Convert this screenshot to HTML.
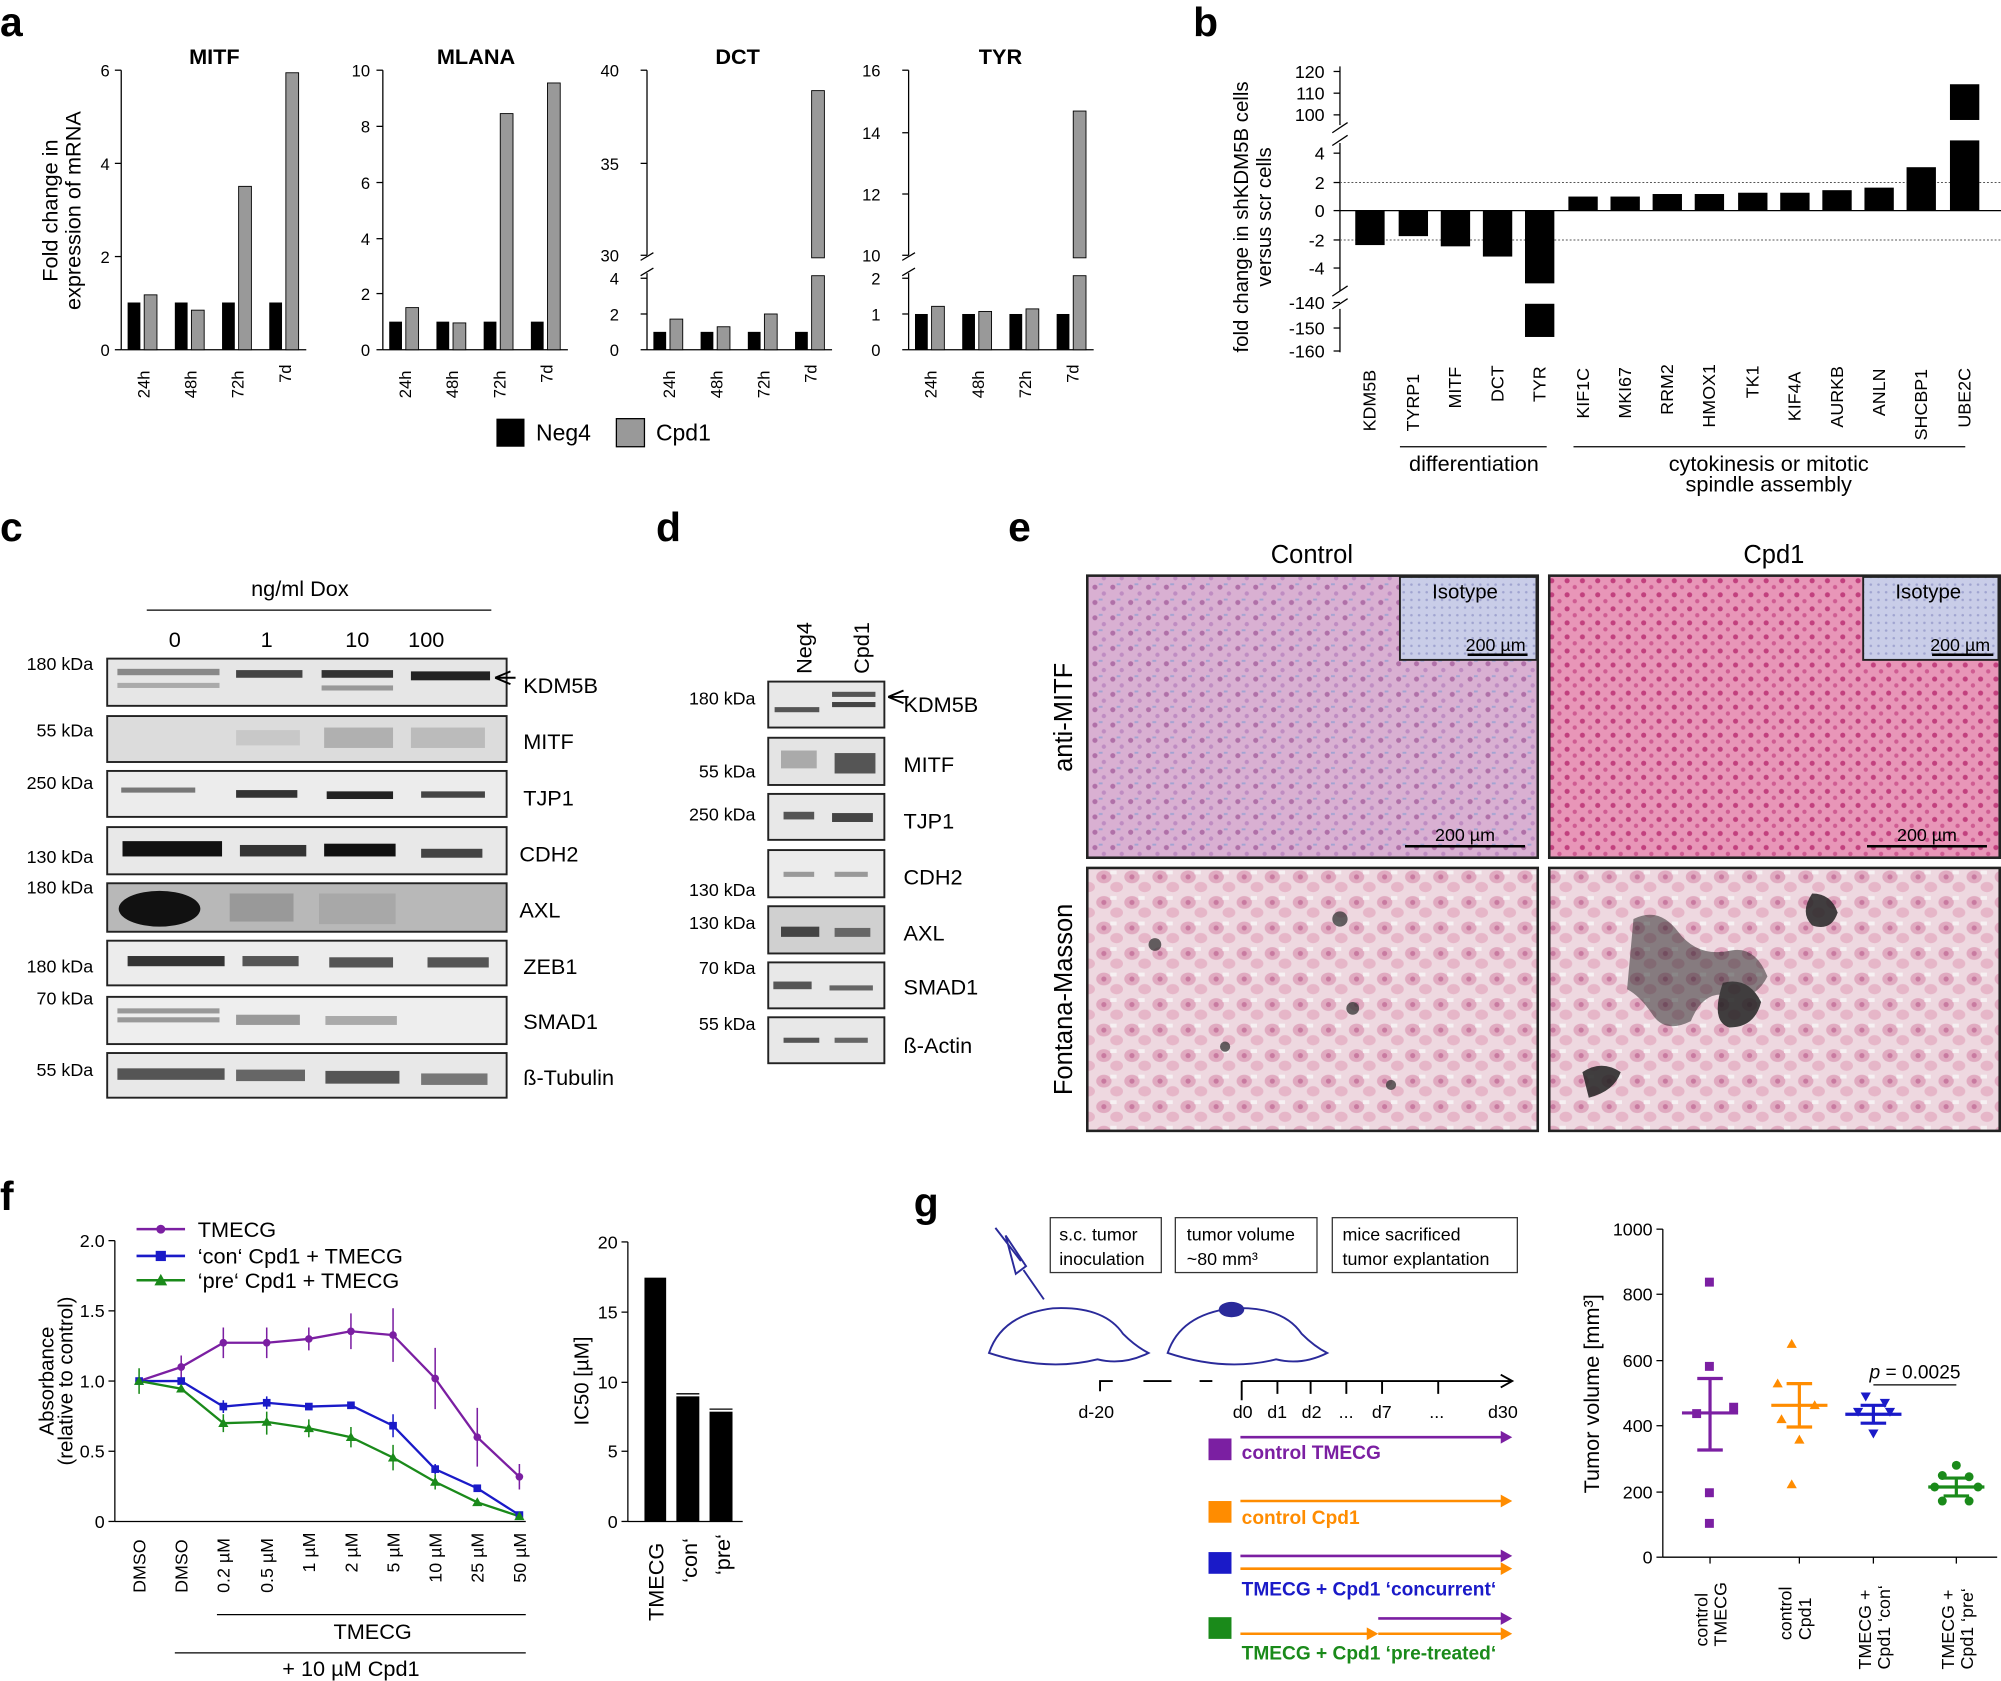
<!DOCTYPE html>
<html><head><meta charset="utf-8"><style>
html,body{margin:0;padding:0;background:#fff}
svg{display:block}
text{font-family:"Liberation Sans",Arial,sans-serif;fill:#000}
</style></head><body>
<svg width="2001" height="1681" viewBox="0 0 1568 1317" preserveAspectRatio="none" xmlns="http://www.w3.org/2000/svg">
<defs>
<pattern id="cellA" width="14" height="12" patternUnits="userSpaceOnUse">
<rect width="14" height="12" fill="#d9b0d2"/><circle cx="4" cy="4" r="2" fill="#b070a8"/><circle cx="11" cy="9" r="1.7" fill="#bf8cc2"/><rect x="7" y="1" width="3" height="1.5" fill="#a2a4d2"/>
</pattern>
<pattern id="cellB" width="12" height="11" patternUnits="userSpaceOnUse">
<rect width="12" height="11" fill="#e896b8"/><circle cx="4" cy="4" r="2" fill="#c2407e"/><circle cx="10" cy="9" r="1.7" fill="#cf5c92"/>
</pattern>
<pattern id="iso" width="6" height="6" patternUnits="userSpaceOnUse">
<rect width="6" height="6" fill="#c9cde8"/><circle cx="2" cy="2" r="1" fill="#a0a4d0"/>
</pattern>
<pattern id="fm" width="22" height="20" patternUnits="userSpaceOnUse">
<rect width="22" height="20" fill="#eed8e0"/><ellipse cx="7" cy="7" rx="6" ry="5" fill="#e0aac0"/><circle cx="7" cy="7" r="2" fill="#c87aa0"/><ellipse cx="17" cy="15" rx="5" ry="4" fill="#e6b6c8"/><rect x="12" y="2" width="5" height="3" fill="#f6f0f2"/>
</pattern>
</defs>

<!-- ===== Panel a ===== -->
<text x="0" y="28" font-size="32" font-weight="bold">a</text>
<text x="45" y="165" transform="rotate(-90 45 165)" text-anchor="middle" font-size="17">Fold change in</text>
<text x="63" y="165" transform="rotate(-90 63 165)" text-anchor="middle" font-size="17">expression of mRNA</text>
<!-- MITF -->
<g font-size="13">
<text x="168" y="50" font-size="17" font-weight="bold" text-anchor="middle">MITF</text>
<line x1="95" y1="55" x2="95" y2="274" stroke="#000"/>
<line x1="95" y1="274" x2="240" y2="274" stroke="#000"/>
<g stroke="#000"><line x1="90" y1="55" x2="95" y2="55"/><line x1="90" y1="128" x2="95" y2="128"/><line x1="90" y1="201" x2="95" y2="201"/><line x1="90" y1="274" x2="95" y2="274"/></g>
<text x="86" y="60" text-anchor="end">6</text><text x="86" y="133" text-anchor="end">4</text><text x="86" y="206" text-anchor="end">2</text><text x="86" y="279" text-anchor="end">0</text>
<rect x="100" y="237" width="10" height="37"/><rect x="113" y="231" width="10" height="43" fill="#999" stroke="#000" stroke-width="0.7"/>
<rect x="137" y="237" width="10" height="37"/><rect x="150" y="243" width="10" height="31" fill="#999" stroke="#000" stroke-width="0.7"/>
<rect x="174" y="237" width="10" height="37"/><rect x="187" y="146" width="10" height="128" fill="#999" stroke="#000" stroke-width="0.7"/>
<rect x="211" y="237" width="10" height="37"/><rect x="224" y="57" width="10" height="217" fill="#999" stroke="#000" stroke-width="0.7"/>
<text transform="translate(117,312) rotate(-90)">24h</text><text transform="translate(154,312) rotate(-90)">48h</text><text transform="translate(191,312) rotate(-90)">72h</text><text transform="translate(228,300) rotate(-90)">7d</text>
</g>
<!-- MLANA -->
<g font-size="13">
<text x="373" y="50" font-size="17" font-weight="bold" text-anchor="middle">MLANA</text>
<line x1="300" y1="55" x2="300" y2="274" stroke="#000"/>
<line x1="300" y1="274" x2="445" y2="274" stroke="#000"/>
<g stroke="#000"><line x1="295" y1="55" x2="300" y2="55"/><line x1="295" y1="99" x2="300" y2="99"/><line x1="295" y1="143" x2="300" y2="143"/><line x1="295" y1="187" x2="300" y2="187"/><line x1="295" y1="230" x2="300" y2="230"/><line x1="295" y1="274" x2="300" y2="274"/></g>
<text x="290" y="60" text-anchor="end">10</text><text x="290" y="104" text-anchor="end">8</text><text x="290" y="148" text-anchor="end">6</text><text x="290" y="192" text-anchor="end">4</text><text x="290" y="235" text-anchor="end">2</text><text x="290" y="279" text-anchor="end">0</text>
<rect x="305" y="252" width="10" height="22"/><rect x="318" y="241" width="10" height="33" fill="#999" stroke="#000" stroke-width="0.7"/>
<rect x="342" y="252" width="10" height="22"/><rect x="355" y="253" width="10" height="21" fill="#999" stroke="#000" stroke-width="0.7"/>
<rect x="379" y="252" width="10" height="22"/><rect x="392" y="89" width="10" height="185" fill="#999" stroke="#000" stroke-width="0.7"/>
<rect x="416" y="252" width="10" height="22"/><rect x="429" y="65" width="10" height="209" fill="#999" stroke="#000" stroke-width="0.7"/>
<text transform="translate(322,312) rotate(-90)">24h</text><text transform="translate(359,312) rotate(-90)">48h</text><text transform="translate(396,312) rotate(-90)">72h</text><text transform="translate(433,300) rotate(-90)">7d</text>
</g>
<!-- DCT -->
<g font-size="13">
<text x="578" y="50" font-size="17" font-weight="bold" text-anchor="middle">DCT</text>
<line x1="507" y1="55" x2="507" y2="200" stroke="#000"/><line x1="507" y1="214" x2="507" y2="274" stroke="#000"/>
<line x1="502" y1="204" x2="512" y2="198" stroke="#000"/><line x1="502" y1="216" x2="512" y2="210" stroke="#000"/>
<line x1="507" y1="274" x2="652" y2="274" stroke="#000"/>
<g stroke="#000"><line x1="502" y1="55" x2="507" y2="55"/><line x1="502" y1="128" x2="507" y2="128"/><line x1="502" y1="200" x2="507" y2="200"/><line x1="502" y1="218" x2="507" y2="218"/><line x1="502" y1="246" x2="507" y2="246"/><line x1="502" y1="274" x2="507" y2="274"/></g>
<text x="485" y="60" text-anchor="end">40</text><text x="485" y="133" text-anchor="end">35</text><text x="485" y="205" text-anchor="end">30</text><text x="485" y="223" text-anchor="end">4</text><text x="485" y="251" text-anchor="end">2</text><text x="485" y="279" text-anchor="end">0</text>
<rect x="512" y="260" width="10" height="14"/><rect x="525" y="250" width="10" height="24" fill="#999" stroke="#000" stroke-width="0.7"/>
<rect x="549" y="260" width="10" height="14"/><rect x="562" y="256" width="10" height="18" fill="#999" stroke="#000" stroke-width="0.7"/>
<rect x="586" y="260" width="10" height="14"/><rect x="599" y="246" width="10" height="28" fill="#999" stroke="#000" stroke-width="0.7"/>
<rect x="623" y="260" width="10" height="14"/><rect x="636" y="71" width="10" height="131" fill="#999" stroke="#000" stroke-width="0.7"/><rect x="636" y="216" width="10" height="58" fill="#999" stroke="#000" stroke-width="0.7"/>
<text transform="translate(529,312) rotate(-90)">24h</text><text transform="translate(566,312) rotate(-90)">48h</text><text transform="translate(603,312) rotate(-90)">72h</text><text transform="translate(640,300) rotate(-90)">7d</text>
</g>
<!-- TYR -->
<g font-size="13">
<text x="784" y="50" font-size="17" font-weight="bold" text-anchor="middle">TYR</text>
<line x1="712" y1="55" x2="712" y2="200" stroke="#000"/><line x1="712" y1="214" x2="712" y2="274" stroke="#000"/>
<line x1="707" y1="204" x2="717" y2="198" stroke="#000"/><line x1="707" y1="216" x2="717" y2="210" stroke="#000"/>
<line x1="712" y1="274" x2="857" y2="274" stroke="#000"/>
<g stroke="#000"><line x1="707" y1="55" x2="712" y2="55"/><line x1="707" y1="104" x2="712" y2="104"/><line x1="707" y1="152" x2="712" y2="152"/><line x1="707" y1="200" x2="712" y2="200"/><line x1="707" y1="218" x2="712" y2="218"/><line x1="707" y1="246" x2="712" y2="246"/><line x1="707" y1="274" x2="712" y2="274"/></g>
<text x="690" y="60" text-anchor="end">16</text><text x="690" y="109" text-anchor="end">14</text><text x="690" y="157" text-anchor="end">12</text><text x="690" y="205" text-anchor="end">10</text><text x="690" y="223" text-anchor="end">2</text><text x="690" y="251" text-anchor="end">1</text><text x="690" y="279" text-anchor="end">0</text>
<rect x="717" y="246" width="10" height="28"/><rect x="730" y="240" width="10" height="34" fill="#999" stroke="#000" stroke-width="0.7"/>
<rect x="754" y="246" width="10" height="28"/><rect x="767" y="244" width="10" height="30" fill="#999" stroke="#000" stroke-width="0.7"/>
<rect x="791" y="246" width="10" height="28"/><rect x="804" y="242" width="10" height="32" fill="#999" stroke="#000" stroke-width="0.7"/>
<rect x="828" y="246" width="10" height="28"/><rect x="841" y="87" width="10" height="115" fill="#999" stroke="#000" stroke-width="0.7"/><rect x="841" y="216" width="10" height="58" fill="#999" stroke="#000" stroke-width="0.7"/>
<text transform="translate(734,312) rotate(-90)">24h</text><text transform="translate(771,312) rotate(-90)">48h</text><text transform="translate(808,312) rotate(-90)">72h</text><text transform="translate(845,300) rotate(-90)">7d</text>
</g>
<rect x="389" y="328" width="22" height="22"/><text x="420" y="345" font-size="18">Neg4</text>
<rect x="483" y="328" width="22" height="22" fill="#999" stroke="#000"/><text x="514" y="345" font-size="18">Cpd1</text>

<!-- ===== Panel b ===== -->
<text x="935" y="28" font-size="32" font-weight="bold">b</text>
<text transform="translate(978,170) rotate(-90)" text-anchor="middle" font-size="16">fold change in shKDM5B cells</text>
<text transform="translate(996,170) rotate(-90)" text-anchor="middle" font-size="16">versus scr cells</text>
<g font-size="14">
<line x1="1050" y1="52" x2="1050" y2="98" stroke="#000"/><line x1="1050" y1="112" x2="1050" y2="228" stroke="#000"/><line x1="1050" y1="242" x2="1050" y2="276" stroke="#000"/>
<line x1="1044" y1="104" x2="1056" y2="96" stroke="#000"/><line x1="1044" y1="114" x2="1056" y2="106" stroke="#000"/>
<line x1="1044" y1="232" x2="1056" y2="224" stroke="#000"/><line x1="1044" y1="242" x2="1056" y2="234" stroke="#000"/>
<g stroke="#000"><line x1="1045" y1="56" x2="1050" y2="56"/><line x1="1045" y1="73" x2="1050" y2="73"/><line x1="1045" y1="90" x2="1050" y2="90"/><line x1="1045" y1="120" x2="1050" y2="120"/><line x1="1045" y1="143" x2="1050" y2="143"/><line x1="1045" y1="165" x2="1050" y2="165"/><line x1="1045" y1="188" x2="1050" y2="188"/><line x1="1045" y1="210" x2="1050" y2="210"/><line x1="1045" y1="237" x2="1050" y2="237"/><line x1="1045" y1="257" x2="1050" y2="257"/><line x1="1045" y1="275" x2="1050" y2="275"/></g>
<text x="1038" y="61" text-anchor="end">120</text><text x="1038" y="78" text-anchor="end">110</text><text x="1038" y="95" text-anchor="end">100</text><text x="1038" y="125" text-anchor="end">4</text><text x="1038" y="148" text-anchor="end">2</text><text x="1038" y="170" text-anchor="end">0</text><text x="1038" y="193" text-anchor="end">-2</text><text x="1038" y="215" text-anchor="end">-4</text><text x="1038" y="242" text-anchor="end">-140</text><text x="1038" y="262" text-anchor="end">-150</text><text x="1038" y="280" text-anchor="end">-160</text>
<line x1="1050" y1="143" x2="1568" y2="143" stroke="#555" stroke-width="0.8" stroke-dasharray="1.5 1.5"/>
<line x1="1050" y1="188" x2="1568" y2="188" stroke="#555" stroke-width="0.8" stroke-dasharray="1.5 1.5"/>
<line x1="1050" y1="165" x2="1568" y2="165" stroke="#000"/>
<rect x="1062" y="165" width="23" height="27"/><rect x="1096" y="165" width="23" height="20"/><rect x="1129" y="165" width="23" height="28"/><rect x="1162" y="165" width="23" height="36"/>
<rect x="1195" y="165" width="23" height="57"/><rect x="1195" y="238" width="23" height="26"/>
<rect x="1229" y="154" width="23" height="11"/><rect x="1262" y="154" width="23" height="11"/><rect x="1295" y="152" width="23" height="13"/><rect x="1328" y="152" width="23" height="13"/><rect x="1362" y="151" width="23" height="14"/><rect x="1395" y="151" width="23" height="14"/><rect x="1428" y="149" width="23" height="16"/><rect x="1461" y="147" width="23" height="18"/><rect x="1494" y="131" width="23" height="34"/>
<rect x="1528" y="110" width="23" height="55"/><rect x="1528" y="66" width="23" height="28"/>
<g font-size="14">
<text transform="translate(1078,338) rotate(-90)">KDM5B</text><text transform="translate(1112,338) rotate(-90)">TYRP1</text><text transform="translate(1145,320) rotate(-90)">MITF</text><text transform="translate(1178,315) rotate(-90)">DCT</text><text transform="translate(1211,315) rotate(-90)">TYR</text><text transform="translate(1245,328) rotate(-90)">KIF1C</text><text transform="translate(1278,328) rotate(-90)">MKI67</text><text transform="translate(1311,325) rotate(-90)">RRM2</text><text transform="translate(1344,335) rotate(-90)">HMOX1</text><text transform="translate(1378,312) rotate(-90)">TK1</text><text transform="translate(1411,330) rotate(-90)">KIF4A</text><text transform="translate(1444,335) rotate(-90)">AURKB</text><text transform="translate(1477,326) rotate(-90)">ANLN</text><text transform="translate(1510,345) rotate(-90)">SHCBP1</text><text transform="translate(1544,335) rotate(-90)">UBE2C</text>
</g>
</g>
<line x1="1097" y1="350" x2="1212" y2="350" stroke="#000"/><text x="1155" y="369" text-anchor="middle" font-size="17">differentiation</text>
<line x1="1233" y1="350" x2="1540" y2="350" stroke="#000"/><text x="1386" y="369" text-anchor="middle" font-size="17">cytokinesis or mitotic</text><text x="1386" y="385" text-anchor="middle" font-size="17">spindle assembly</text>

<!-- ===== Panel c ===== -->
<text x="0" y="424" font-size="32" font-weight="bold">c</text>
<text x="235" y="467" text-anchor="middle" font-size="17">ng/ml Dox</text>
<line x1="115" y1="478" x2="385" y2="478" stroke="#000"/>
<g font-size="17" text-anchor="middle"><text x="137" y="507">0</text><text x="209" y="507">1</text><text x="280" y="507">10</text><text x="334" y="507">100</text></g>
<g stroke="#222" stroke-width="1.5">
<rect x="84" y="516" width="313" height="37" fill="#e6e6e6"/>
<rect x="84" y="561" width="313" height="36" fill="#dcdcdc"/>
<rect x="84" y="604" width="313" height="36" fill="#ececec"/>
<rect x="84" y="648" width="313" height="37" fill="#e8e8e8"/>
<rect x="84" y="692" width="313" height="38" fill="#b8b8b8"/>
<rect x="84" y="737" width="313" height="35" fill="#ececec"/>
<rect x="84" y="781" width="313" height="37" fill="#eeeeee"/>
<rect x="84" y="825" width="313" height="35" fill="#e8e8e8"/>
</g>
<g>
<rect x="92" y="524" width="80" height="5" fill="#888"/><rect x="185" y="525" width="52" height="6" fill="#444"/><rect x="252" y="525" width="56" height="6" fill="#333"/><rect x="322" y="526" width="62" height="7" fill="#222"/>
<rect x="92" y="535" width="80" height="4" fill="#aaa"/><rect x="252" y="537" width="56" height="4" fill="#999"/>
<rect x="185" y="572" width="50" height="12" fill="#c8c8c8"/><rect x="254" y="570" width="54" height="16" fill="#b0b0b0"/><rect x="322" y="570" width="58" height="16" fill="#bbb"/>
<rect x="95" y="617" width="58" height="4" fill="#777"/><rect x="185" y="619" width="48" height="6" fill="#333"/><rect x="256" y="620" width="52" height="6" fill="#222"/><rect x="330" y="620" width="50" height="5" fill="#444"/>
<rect x="96" y="659" width="78" height="12" fill="#111"/><rect x="188" y="662" width="52" height="9" fill="#333"/><rect x="254" y="661" width="56" height="10" fill="#111"/><rect x="330" y="665" width="48" height="7" fill="#444"/>
<ellipse cx="125" cy="712" rx="32" ry="14" fill="#111"/><rect x="180" y="700" width="50" height="22" fill="#999"/><rect x="250" y="700" width="60" height="24" fill="#a8a8a8"/>
<rect x="100" y="749" width="76" height="8" fill="#333"/><rect x="190" y="749" width="44" height="8" fill="#555"/><rect x="258" y="750" width="50" height="8" fill="#555"/><rect x="335" y="750" width="48" height="8" fill="#555"/>
<rect x="92" y="790" width="80" height="4" fill="#999"/><rect x="92" y="797" width="80" height="4" fill="#999"/><rect x="185" y="795" width="50" height="8" fill="#999"/><rect x="255" y="796" width="56" height="7" fill="#aaa"/>
<rect x="92" y="837" width="84" height="9" fill="#555"/><rect x="185" y="838" width="54" height="9" fill="#666"/><rect x="255" y="839" width="58" height="10" fill="#555"/><rect x="330" y="841" width="52" height="9" fill="#777"/>
</g>
<path d="M388 531 L400 526 M388 531 L400 536 M388 531 L404 531" stroke="#000" stroke-width="1.5" fill="none"/>
<g font-size="14" text-anchor="end"><text x="73" y="525">180 kDa</text><text x="73" y="577">55 kDa</text><text x="73" y="618">250 kDa</text><text x="73" y="676">130 kDa</text><text x="73" y="700">180 kDa</text><text x="73" y="762">180 kDa</text><text x="73" y="787">70 kDa</text><text x="73" y="843">55 kDa</text></g>
<g font-size="17"><text x="410" y="543">KDM5B</text><text x="410" y="587">MITF</text><text x="410" y="631">TJP1</text><text x="407" y="675">CDH2</text><text x="407" y="719">AXL</text><text x="410" y="763">ZEB1</text><text x="410" y="806">SMAD1</text><text x="410" y="850">ß-Tubulin</text></g>

<!-- ===== Panel d ===== -->
<text x="514" y="424" font-size="32" font-weight="bold">d</text>
<text transform="translate(636,528) rotate(-90)" font-size="17">Neg4</text>
<text transform="translate(681,528) rotate(-90)" font-size="17">Cpd1</text>
<g stroke="#222" stroke-width="1.5">
<rect x="602" y="534" width="91" height="36" fill="#e8e8e8"/>
<rect x="602" y="578" width="91" height="37" fill="#e4e4e4"/>
<rect x="602" y="622" width="91" height="36" fill="#e8e8e8"/>
<rect x="602" y="666" width="91" height="37" fill="#ececec"/>
<rect x="602" y="710" width="91" height="37" fill="#d0d0d0"/>
<rect x="602" y="754" width="91" height="36" fill="#e8e8e8"/>
<rect x="602" y="797" width="91" height="36" fill="#e8e8e8"/>
</g>
<rect x="607" y="554" width="35" height="4" fill="#555"/><rect x="652" y="542" width="34" height="4" fill="#555"/><rect x="652" y="550" width="34" height="4" fill="#444"/>
<rect x="612" y="588" width="28" height="14" fill="#aaa"/><rect x="654" y="590" width="32" height="16" fill="#555"/>
<rect x="614" y="636" width="24" height="6" fill="#555"/><rect x="652" y="637" width="32" height="7" fill="#444"/>
<rect x="614" y="683" width="24" height="4" fill="#999"/><rect x="654" y="683" width="26" height="4" fill="#999"/>
<rect x="612" y="726" width="30" height="8" fill="#444"/><rect x="654" y="727" width="28" height="7" fill="#666"/>
<rect x="606" y="769" width="30" height="6" fill="#555"/><rect x="650" y="772" width="34" height="4" fill="#666"/>
<rect x="614" y="813" width="28" height="4" fill="#555"/><rect x="654" y="813" width="26" height="4" fill="#666"/>
<path d="M696 546 L708 541 M696 546 L708 551 M696 546 L712 546" stroke="#000" stroke-width="1.5" fill="none"/>
<g font-size="14" text-anchor="end"><text x="592" y="552">180 kDa</text><text x="592" y="609">55 kDa</text><text x="592" y="643">250 kDa</text><text x="592" y="702">130 kDa</text><text x="592" y="728">130 kDa</text><text x="592" y="763">70 kDa</text><text x="592" y="807">55 kDa</text></g>
<g font-size="17"><text x="708" y="558">KDM5B</text><text x="708" y="605">MITF</text><text x="708" y="649">TJP1</text><text x="708" y="693">CDH2</text><text x="708" y="737">AXL</text><text x="708" y="779">SMAD1</text><text x="708" y="825">ß-Actin</text></g>

<!-- ===== Panel e ===== -->
<text x="790" y="424" font-size="32" font-weight="bold">e</text>
<text x="1028" y="441" text-anchor="middle" font-size="20">Control</text>
<text x="1390" y="441" text-anchor="middle" font-size="20">Cpd1</text>
<text transform="translate(840,562) rotate(-90)" text-anchor="middle" font-size="20">anti-MITF</text>
<text transform="translate(840,783) rotate(-90)" text-anchor="middle" font-size="20">Fontana-Masson</text>
<rect x="852" y="451" width="353" height="221" fill="url(#cellA)" stroke="#222" stroke-width="2"/>
<rect x="1214" y="451" width="353" height="221" fill="url(#cellB)" stroke="#222" stroke-width="2"/>
<rect x="1097" y="452" width="107" height="65" fill="url(#iso)" stroke="#222" stroke-width="1.5"/>
<rect x="1460" y="452" width="106" height="65" fill="url(#iso)" stroke="#222" stroke-width="1.5"/>
<text x="1148" y="469" text-anchor="middle" font-size="16">Isotype</text><text x="1511" y="469" text-anchor="middle" font-size="16">Isotype</text>
<text x="1172" y="510" text-anchor="middle" font-size="14">200 µm</text><line x1="1150" y1="513" x2="1197" y2="513" stroke="#000" stroke-width="2"/>
<text x="1536" y="510" text-anchor="middle" font-size="14">200 µm</text><line x1="1514" y1="513" x2="1562" y2="513" stroke="#000" stroke-width="2"/>
<text x="1148" y="659" text-anchor="middle" font-size="14">200 µm</text><line x1="1101" y1="663" x2="1195" y2="663" stroke="#000" stroke-width="2"/>
<text x="1510" y="659" text-anchor="middle" font-size="14">200 µm</text><line x1="1463" y1="663" x2="1557" y2="663" stroke="#000" stroke-width="2"/>
<rect x="852" y="680" width="353" height="206" fill="url(#fm)" stroke="#222" stroke-width="2"/>
<rect x="1214" y="680" width="353" height="206" fill="url(#fm)" stroke="#222" stroke-width="2"/>
<g fill="#333" opacity="0.75"><circle cx="905" cy="740" r="5"/><circle cx="1050" cy="720" r="6"/><circle cx="1060" cy="790" r="5"/><circle cx="1090" cy="850" r="4"/><circle cx="960" cy="820" r="4"/></g>
<g fill="#222" opacity="0.85">
<path d="M1280 720 q20 -10 35 10 q15 20 40 15 q20 -5 30 20 q-10 20 -30 15 q-20 -5 -30 20 q-20 10 -30 -5 q-10 -15 -20 -20 z" opacity="0.6"/>
<path d="M1350 770 q20 -5 30 15 q-5 20 -25 20 q-15 -5 -5 -35z"/>
<path d="M1420 700 q15 0 20 15 q-5 15 -20 10 q-10 -10 0 -25z"/>
<path d="M1240 840 q15 -10 30 0 q-5 15 -25 20 z"/>
</g>

<!-- ===== Panel f ===== -->
<text x="0" y="948" font-size="32" font-weight="bold">f</text>
<text transform="translate(42,1082) rotate(-90)" text-anchor="middle" font-size="16">Absorbance</text>
<text transform="translate(57,1082) rotate(-90)" text-anchor="middle" font-size="16">(relative to control)</text>
<g font-size="14">
<line x1="90" y1="972" x2="90" y2="1192" stroke="#000"/><line x1="90" y1="1192" x2="412" y2="1192" stroke="#000"/>
<g stroke="#000"><line x1="85" y1="972" x2="90" y2="972"/><line x1="85" y1="1027" x2="90" y2="1027"/><line x1="85" y1="1082" x2="90" y2="1082"/><line x1="85" y1="1137" x2="90" y2="1137"/><line x1="85" y1="1192" x2="90" y2="1192"/></g>
<text x="82" y="977" text-anchor="end">2.0</text><text x="82" y="1032" text-anchor="end">1.5</text><text x="82" y="1087" text-anchor="end">1.0</text><text x="82" y="1142" text-anchor="end">0.5</text><text x="82" y="1197" text-anchor="end">0</text>
</g>
<g fill="none" stroke-width="1.8">
<polyline stroke="#7b1fa2" points="109,1082 142,1071 175,1052 209,1052 242,1049 275,1043 308,1046 341,1080 374,1126 407,1157"/>
<polyline stroke="#1a1ac8" points="109,1082 142,1082 175,1102 209,1099 242,1102 275,1101 308,1117 341,1151 374,1166 407,1187"/>
<polyline stroke="#1a8a1a" points="109,1082 142,1088 175,1115 209,1114 242,1119 275,1126 308,1142 341,1161 374,1177 407,1188"/>
</g>
<g stroke-width="1.2" fill="none">
<path stroke="#7b1fa2" d="M142 1062v18M175 1040v24M209 1040v24M242 1040v18M275 1029v28M308 1025v42M341 1056v48M374 1103v46M407 1147v20"/>
<path stroke="#1a1ac8" d="M175 1097v10M209 1094v10M308 1108v18M341 1147v8"/>
<path stroke="#1a8a1a" d="M109 1072v20M175 1108v14M209 1106v18M242 1112v14M275 1118v16M308 1132v20M341 1155v12"/>
</g>
<g fill="#7b1fa2"><circle cx="109" cy="1082" r="3"/><circle cx="142" cy="1071" r="3"/><circle cx="175" cy="1052" r="3"/><circle cx="209" cy="1052" r="3"/><circle cx="242" cy="1049" r="3"/><circle cx="275" cy="1043" r="3"/><circle cx="308" cy="1046" r="3"/><circle cx="341" cy="1080" r="3"/><circle cx="374" cy="1126" r="3"/><circle cx="407" cy="1157" r="3"/></g>
<g fill="#1a1ac8"><rect x="106" y="1079" width="6" height="6"/><rect x="139" y="1079" width="6" height="6"/><rect x="172" y="1099" width="6" height="6"/><rect x="206" y="1096" width="6" height="6"/><rect x="239" y="1099" width="6" height="6"/><rect x="272" y="1098" width="6" height="6"/><rect x="305" y="1114" width="6" height="6"/><rect x="338" y="1148" width="6" height="6"/><rect x="371" y="1163" width="6" height="6"/><rect x="404" y="1184" width="6" height="6"/></g>
<g fill="#1a8a1a"><path d="M109 1078l4 7h-8z M142 1084l4 7h-8z M175 1111l4 7h-8z M209 1110l4 7h-8z M242 1115l4 7h-8z M275 1122l4 7h-8z M308 1138l4 7h-8z M341 1157l4 7h-8z M374 1173l4 7h-8z M407 1184l4 7h-8z"/></g>
<line x1="107" y1="963" x2="145" y2="963" stroke="#7b1fa2" stroke-width="2"/><circle cx="126" cy="963" r="3.5" fill="#7b1fa2"/>
<line x1="107" y1="984" x2="145" y2="984" stroke="#1a1ac8" stroke-width="2"/><rect x="122" y="980" width="8" height="8" fill="#1a1ac8"/>
<line x1="107" y1="1003" x2="145" y2="1003" stroke="#1a8a1a" stroke-width="2"/><path d="M126 998l5 9h-10z" fill="#1a8a1a"/>
<g font-size="17"><text x="155" y="969">TMECG</text><text x="155" y="990">‘con‘ Cpd1 + TMECG</text><text x="155" y="1009">‘pre‘ Cpd1 + TMECG</text></g>
<g font-size="14">
<text transform="translate(114,1248) rotate(-90)">DMSO</text><text transform="translate(147,1248) rotate(-90)">DMSO</text><text transform="translate(180,1248) rotate(-90)">0.2 µM</text><text transform="translate(214,1248) rotate(-90)">0.5 µM</text><text transform="translate(247,1232) rotate(-90)">1 µM</text><text transform="translate(280,1232) rotate(-90)">2 µM</text><text transform="translate(313,1232) rotate(-90)">5 µM</text><text transform="translate(346,1240) rotate(-90)">10 µM</text><text transform="translate(379,1240) rotate(-90)">25 µM</text><text transform="translate(412,1240) rotate(-90)">50 µM</text>
</g>
<line x1="170" y1="1265" x2="412" y2="1265" stroke="#000"/><text x="292" y="1284" text-anchor="middle" font-size="17">TMECG</text>
<line x1="137" y1="1295" x2="412" y2="1295" stroke="#000"/><text x="275" y="1313" text-anchor="middle" font-size="17">+ 10 µM Cpd1</text>
<!-- IC50 -->
<text transform="translate(461,1082) rotate(-90)" text-anchor="middle" font-size="16">IC50 [µM]</text>
<g font-size="14">
<line x1="492" y1="973" x2="492" y2="1192" stroke="#000"/><line x1="492" y1="1192" x2="582" y2="1192" stroke="#000"/>
<g stroke="#000"><line x1="487" y1="973" x2="492" y2="973"/><line x1="487" y1="1028" x2="492" y2="1028"/><line x1="487" y1="1083" x2="492" y2="1083"/><line x1="487" y1="1137" x2="492" y2="1137"/><line x1="487" y1="1192" x2="492" y2="1192"/></g>
<text x="484" y="978" text-anchor="end">20</text><text x="484" y="1033" text-anchor="end">15</text><text x="484" y="1088" text-anchor="end">10</text><text x="484" y="1142" text-anchor="end">5</text><text x="484" y="1197" text-anchor="end">0</text>
<rect x="505" y="1001" width="17" height="191"/><rect x="530" y="1094" width="18" height="98"/><rect x="556" y="1106" width="18" height="86"/>
<line x1="530" y1="1092" x2="548" y2="1092" stroke="#000"/><line x1="556" y1="1104" x2="574" y2="1104" stroke="#000"/>
<g font-size="17"><text transform="translate(520,1270) rotate(-90)">TMECG</text><text transform="translate(546,1240) rotate(-90)">‘con‘</text><text transform="translate(572,1234) rotate(-90)">‘pre‘</text></g>
</g>

<!-- ===== Panel g ===== -->
<text x="716" y="953" font-size="32" font-weight="bold">g</text>
<g font-size="14">
<rect x="823" y="954" width="87" height="43" fill="#fff" stroke="#333"/><text x="830" y="972">s.c. tumor</text><text x="830" y="991">inoculation</text>
<rect x="921" y="954" width="111" height="43" fill="#fff" stroke="#333"/><text x="930" y="972">tumor volume</text><text x="930" y="991">~80 mm³</text>
<rect x="1044" y="954" width="145" height="43" fill="#fff" stroke="#333"/><text x="1052" y="972">mice sacrificed</text><text x="1052" y="991">tumor explantation</text>
</g>
<g stroke="#2a2a9a" fill="none" stroke-width="1.5">
<path d="M780 962 L800 988 M788 968 L804 992 L796 998 z M802 995 L818 1018"/>
<path d="M775 1060 q10 -30 50 -35 q40 -2 55 20 q10 10 20 15 q-20 10 -40 5 q-40 10 -85 -5z"/>
<path d="M915 1060 q10 -30 50 -35 q40 -2 55 20 q10 10 20 15 q-20 10 -40 5 q-40 10 -85 -5z"/>
</g>
<ellipse cx="965" cy="1026" rx="10" ry="6" fill="#2a2a9a"/>
<g stroke="#000" stroke-width="1.5" fill="none">
<path d="M862 1090 v-8 h10"/><line x1="896" y1="1082" x2="918" y2="1082"/><line x1="940" y1="1082" x2="950" y2="1082"/>
<line x1="973" y1="1082" x2="1184" y2="1082"/><path d="M1176 1077 l9 5 -9 5"/>
<path d="M973 1082v15M1001 1082v10M1027 1082v10M1055 1082v10M1083 1082v10M1127 1082v10"/>
</g>
<g font-size="14"><text x="845" y="1111">d-20</text><text x="966" y="1111">d0</text><text x="993" y="1111">d1</text><text x="1020" y="1111">d2</text><text x="1049" y="1111">...</text><text x="1075" y="1111">d7</text><text x="1120" y="1111">...</text><text x="1166" y="1111">d30</text></g>
<rect x="947" y="1127" width="18" height="17" fill="#7b1fa2"/>
<line x1="972" y1="1126" x2="1180" y2="1126" stroke="#7b1fa2" stroke-width="2"/><path d="M1176 1121l9 5-9 5z" fill="#7b1fa2"/>
<text x="973" y="1143" font-size="15" font-weight="bold" style="fill:#7b1fa2">control TMECG</text>
<rect x="947" y="1176" width="18" height="17" fill="#ff8c00"/>
<line x1="972" y1="1176" x2="1180" y2="1176" stroke="#ff8c00" stroke-width="2"/><path d="M1176 1171l9 5-9 5z" fill="#ff8c00"/>
<text x="973" y="1194" font-size="15" font-weight="bold" style="fill:#ff8c00">control Cpd1</text>
<rect x="947" y="1216" width="18" height="17" fill="#1a1ac8"/>
<line x1="972" y1="1219" x2="1180" y2="1219" stroke="#7b1fa2" stroke-width="2"/><path d="M1176 1214l9 5-9 5z" fill="#7b1fa2"/>
<line x1="972" y1="1229" x2="1180" y2="1229" stroke="#ff8c00" stroke-width="2"/><path d="M1176 1224l9 5-9 5z" fill="#ff8c00"/>
<text x="973" y="1250" font-size="15" font-weight="bold" style="fill:#1a1ac8">TMECG + Cpd1 ‘concurrent‘</text>
<rect x="947" y="1267" width="18" height="17" fill="#1a8a1a"/>
<line x1="1080" y1="1268" x2="1180" y2="1268" stroke="#7b1fa2" stroke-width="2"/><path d="M1176 1263l9 5-9 5z" fill="#7b1fa2"/>
<line x1="972" y1="1280" x2="1075" y2="1280" stroke="#ff8c00" stroke-width="2"/><path d="M1071 1275l9 5-9 5z" fill="#ff8c00"/>
<line x1="1080" y1="1280" x2="1180" y2="1280" stroke="#ff8c00" stroke-width="2"/><path d="M1176 1275l9 5-9 5z" fill="#ff8c00"/>
<text x="973" y="1300" font-size="15" font-weight="bold" style="fill:#1a8a1a">TMECG + Cpd1 ‘pre-treated‘</text>
<!-- scatter -->
<text transform="translate(1253,1092) rotate(-90)" text-anchor="middle" font-size="17">Tumor volume [mm³]</text>
<g font-size="14">
<line x1="1303" y1="963" x2="1303" y2="1220" stroke="#000"/><line x1="1303" y1="1220" x2="1565" y2="1220" stroke="#000"/>
<g stroke="#000"><line x1="1298" y1="963" x2="1303" y2="963"/><line x1="1298" y1="1014" x2="1303" y2="1014"/><line x1="1298" y1="1066" x2="1303" y2="1066"/><line x1="1298" y1="1117" x2="1303" y2="1117"/><line x1="1298" y1="1169" x2="1303" y2="1169"/><line x1="1298" y1="1220" x2="1303" y2="1220"/>
<line x1="1340" y1="1220" x2="1340" y2="1225"/><line x1="1410" y1="1220" x2="1410" y2="1225"/><line x1="1468" y1="1220" x2="1468" y2="1225"/><line x1="1533" y1="1220" x2="1533" y2="1225"/></g>
<text x="1295" y="968" text-anchor="end">1000</text><text x="1295" y="1019" text-anchor="end">800</text><text x="1295" y="1071" text-anchor="end">600</text><text x="1295" y="1122" text-anchor="end">400</text><text x="1295" y="1174" text-anchor="end">200</text><text x="1295" y="1225" text-anchor="end">0</text>
</g>
<g stroke="#7b1fa2" stroke-width="2.5"><line x1="1318" y1="1107" x2="1362" y2="1107"/><line x1="1340" y1="1080" x2="1340" y2="1136"/><line x1="1330" y1="1080" x2="1350" y2="1080"/><line x1="1330" y1="1136" x2="1350" y2="1136"/></g>
<g fill="#7b1fa2"><rect x="1336" y="1001" width="7" height="7"/><rect x="1336" y="1067" width="7" height="7"/><rect x="1355" y="1099" width="7" height="7"/><rect x="1326" y="1104" width="7" height="7"/><rect x="1336" y="1166" width="7" height="7"/><rect x="1336" y="1190" width="7" height="7"/></g>
<g stroke="#ff8c00" stroke-width="2.5"><line x1="1388" y1="1101" x2="1432" y2="1101"/><line x1="1410" y1="1084" x2="1410" y2="1118"/><line x1="1400" y1="1084" x2="1420" y2="1084"/><line x1="1400" y1="1118" x2="1420" y2="1118"/></g>
<g fill="#ff8c00"><path d="M1404 1049l4 7h-8z M1393 1080l4 7h-8z M1422 1097l4 7h-8z M1396 1108l4 7h-8z M1410 1124l4 7h-8z M1404 1159l4 7h-8z"/></g>
<g stroke="#1a1ac8" stroke-width="2.5"><line x1="1446" y1="1108" x2="1490" y2="1108"/><line x1="1468" y1="1101" x2="1468" y2="1115"/><line x1="1458" y1="1101" x2="1478" y2="1101"/><line x1="1458" y1="1115" x2="1478" y2="1115"/></g>
<g fill="#1a1ac8"><path d="M1462 1098l-4 -7h8z M1477 1103l-4 -7h8z M1456 1110l-4 -7h8z M1481 1110l-4 -7h8z M1468 1127l-4 -7h8z"/></g>
<g stroke="#1a8a1a" stroke-width="2.5"><line x1="1511" y1="1165" x2="1555" y2="1165"/><line x1="1533" y1="1158" x2="1533" y2="1172"/><line x1="1523" y1="1158" x2="1543" y2="1158"/><line x1="1523" y1="1172" x2="1543" y2="1172"/></g>
<g fill="#1a8a1a"><circle cx="1533" cy="1148" r="3.5"/><circle cx="1522" cy="1156" r="3.5"/><circle cx="1543" cy="1157" r="3.5"/><circle cx="1516" cy="1165" r="3.5"/><circle cx="1550" cy="1165" r="3.5"/><circle cx="1522" cy="1176" r="3.5"/><circle cx="1543" cy="1176" r="3.5"/></g>
<line x1="1468" y1="1085" x2="1533" y2="1085" stroke="#000"/>
<text x="1465" y="1080" font-size="15"><tspan font-style="italic">p</tspan> = 0.0025</text>
<g font-size="14">
<text transform="translate(1338,1290) rotate(-90)">control</text><text transform="translate(1353,1290) rotate(-90)">TMECG</text>
<text transform="translate(1404,1285) rotate(-90)">control</text><text transform="translate(1419,1285) rotate(-90)">Cpd1</text>
<text transform="translate(1466,1308) rotate(-90)">TMECG +</text><text transform="translate(1481,1308) rotate(-90)">Cpd1 ‘con‘</text>
<text transform="translate(1531,1308) rotate(-90)">TMECG +</text><text transform="translate(1546,1308) rotate(-90)">Cpd1 ‘pre‘</text>
</g>
</svg>
</body></html>
